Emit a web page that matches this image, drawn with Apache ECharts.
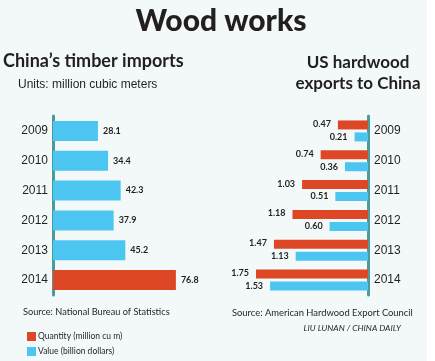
<!DOCTYPE html>
<html>
<head>
<meta charset="utf-8">
<script src="https://cdn.jsdelivr.net/npm/echarts@6/dist/echarts.min.js"></script>
<style>
html,body{margin:0;padding:0;background:#f3f9f9;}
#c{width:435px;height:361px;}
</style>
</head>
<body>
<div id="c"></div>
<script>
var years = ['2009','2010','2011','2012','2013','2014'];
var timberImports = [28.1, 34.4, 42.3, 37.9, 45.2, 76.8];
var usQuantity = [0.47, 0.74, 1.03, 1.18, 1.47, 1.75];
var usValue = [0.21, 0.36, 0.51, 0.60, 1.13, 1.53];

var RED = '#dd4726', BLUE = '#4cc6f0', AXIS = '#4a9c9c', TXT = '#231f20';
var HEAD = 'Lato, "DejaVu Sans", sans-serif';
var BODY = '"Liberation Sans", Arial, sans-serif';

var chart = echarts.init(document.getElementById('c'), null, {renderer:'canvas'});
chart.setOption({
  backgroundColor: '#f3f9f9',
  animation: false,
  grid: [
    {left: 53, top: 116, width: 160, height: 179},
    {left: 240, top: 116, width: 128, height: 179}
  ],
  xAxis: [
    {gridIndex: 0, type: 'value', min: 0, max: 100, show: false},
    {gridIndex: 1, type: 'value', min: 0, max: 2, inverse: true, show: false}
  ],
  yAxis: [
    {gridIndex: 0, type: 'category', data: years, inverse: true, position: 'left',
     axisLine: {show: true, lineStyle: {color: AXIS, width: 3}},
     axisTick: {show: false}, splitLine: {show: false},
     axisLabel: {color: TXT, fontFamily: BODY, fontSize: 12, margin: 5}},
    {gridIndex: 1, type: 'category', data: years, inverse: true, position: 'right',
     axisLine: {show: true, lineStyle: {color: AXIS, width: 3}},
     axisTick: {show: false}, splitLine: {show: false},
     axisLabel: {color: TXT, fontFamily: BODY, fontSize: 12, margin: 6}}
  ],
  legend: {
    orient: 'vertical', left: 22, top: 327, itemWidth: 9, itemHeight: 9, itemGap: 6,
    icon: 'rect', data: ['Quantity (million cu m)', 'Value (billion dollars)'],
    textStyle: {color: TXT, fontFamily: HEAD, fontSize: 8.5, padding: [0,0,0,-3]}
  },
  series: [
    {name: 'Timber imports', type: 'bar', xAxisIndex: 0, yAxisIndex: 0, barWidth: 20,
     data: timberImports.map(function(v, i){ return {value: v, itemStyle: {color: i === timberImports.length - 1 ? RED : BLUE}}; }),
     label: {show: true, position: 'right', distance: 5, color: TXT, fontFamily: HEAD, fontWeight: 'bold', fontSize: 9,
             formatter: function(p){ return p.value.toFixed(1); }}},
    {name: 'Quantity (million cu m)', type: 'bar', xAxisIndex: 1, yAxisIndex: 1, barWidth: 9, barGap: '33%',
     itemStyle: {color: RED}, data: usQuantity,
     label: {show: true, position: 'left', distance: 7, color: TXT, fontFamily: HEAD, fontWeight: 'bold', fontSize: 9,
             offset: [0, -1], formatter: function(p){ return p.value.toFixed(2); }}},
    {name: 'Value (billion dollars)', type: 'bar', xAxisIndex: 1, yAxisIndex: 1, barWidth: 9, barGap: '33%',
     itemStyle: {color: BLUE}, data: usValue,
     label: {show: true, position: 'left', distance: 7, color: TXT, fontFamily: HEAD, fontWeight: 'bold', fontSize: 9,
             formatter: function(p){ return p.value.toFixed(2); }}}
  ],
  graphic: [
    {type: 'rect', left: 427, top: 0, shape: {width: 8, height: 361}, style: {fill: '#ffffff'}, silent: true},
    {type: 'text', x: 221, y: 6, style: {text: 'Wood works', fill: TXT, font: '900 30px ' + HEAD, align: 'center'}},
    {type: 'text', left: 3, top: 52, style: {text: 'China\u2019s timber imports', fill: TXT, font: 'bold 18px ' + HEAD}},
    {type: 'text', left: 18, top: 79, style: {text: 'Units: million cubic meters', fill: TXT, font: '12px ' + BODY}},
    {type: 'text', x: 358, y: 52, style: {text: 'US hardwood\nexports to China', fill: TXT, font: 'bold 17px ' + HEAD, align: 'center', lineHeight: 21}},
    {type: 'text', left: 23, top: 308, style: {text: 'Source: National Bureau of Statistics', fill: TXT, font: '9.2px ' + HEAD}},
    {type: 'text', left: 232, top: 308, style: {text: 'Source: American Hardwood Export Council', fill: TXT, font: '9.4px ' + HEAD}},
    {type: 'text', x: 401, y: 324, style: {text: 'LIU LUNAN / CHINA DAILY', fill: TXT, font: 'italic 8.5px ' + HEAD, align: 'right'}}
  ]
});
</script>
</body>
</html>
